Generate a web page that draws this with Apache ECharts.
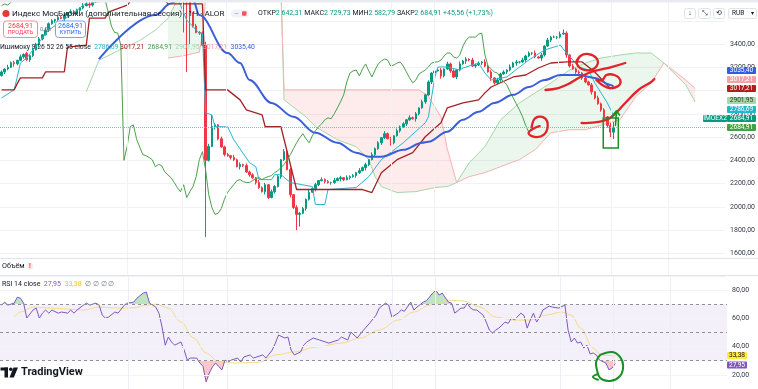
<!DOCTYPE html>
<html><head><meta charset="utf-8">
<script src="https://cdn.jsdelivr.net/npm/echarts@6/dist/echarts.min.js"></script>
<style>html,body{margin:0;padding:0;background:#fff}#c{width:758px;height:389px}</style>
</head><body><div id="c"></div>
<script>
// ---------------- DATA ----------------
const N_SLOTS = 231; // 196 hourly bars + 26 bars of forward cloud + right margin
const categories = Array.from({length: N_SLOTS}, (_, i) => String(i));

const opens = [3130,3160,3185,3200,3240,3230,3260,3290,3320,3265,
3300,3350,3400,3445,3480,3520,3575,3600,3610,3630,
3620,3650,3670,3680,3660,3690,3710,3730,3745,3735,
3760,3775,3790,3800,3830,3850,3880,3920,3960,4000,
4040,4080,4120,4150,4180,4210,4240,4220,4255,4200,
4130,4060,3990,3950,3970,3930,3910,3900,3850,3830,
3780,3670,3555,3500,3495,3390,2400,2520,2690,2705,
2585,2515,2450,2440,2425,2405,2345,2365,2355,2300,
2275,2250,2210,2165,2130,2190,2080,2130,2175,2260,
2405,2475,2320,2105,1995,1935,1945,1985,2065,2125,
2157,2191,2226,2234,2217,2209,2209,2226,2243,2251,
2234,2251,2260,2269,2294,2311,2337,2363,2406,2449,
2500,2551,2594,2629,2586,2551,2611,2654,2689,2714,
2749,2766,2757,2800,2851,2903,2963,3074,3151,3169,
3177,3126,3186,3229,3169,3117,3177,3229,3254,3271,
3263,3211,3220,3237,3246,3211,3160,3109,3066,3091,
3143,3160,3177,3203,3237,3246,3246,3263,3297,3323,
3323,3289,3280,3306,3383,3434,3460,3460,3460,3486,
3494,3306,3211,3186,3160,3151,3109,3074,3049,2989,
2937,2886,2834,2774,2700,2642.31];
const closes = [3160,3185,3200,3240,3230,3260,3290,3310,3265,3300,
3350,3400,3445,3480,3520,3575,3600,3610,3630,3620,
3650,3670,3680,3660,3690,3710,3730,3745,3735,3760,
3775,3790,3800,3830,3850,3880,3920,3960,4000,4040,
4080,4120,4150,4180,4210,4240,4220,4255,4200,4130,
4060,3990,3950,3970,3930,3910,3900,3850,3830,3780,
3670,3555,3500,3495,3390,2400,2520,2690,2705,2585,
2515,2450,2440,2425,2405,2345,2365,2355,2300,2275,
2250,2210,2165,2130,2190,2080,2130,2175,2260,2405,
2475,2320,2105,1995,1935,1945,1985,2065,2125,2157,
2191,2226,2234,2217,2209,2209,2226,2243,2251,2234,
2251,2260,2269,2294,2311,2337,2363,2406,2449,2500,
2551,2594,2629,2586,2551,2611,2654,2689,2714,2749,
2766,2757,2800,2851,2903,2963,3074,3151,3169,3177,
3126,3186,3229,3169,3117,3177,3229,3254,3271,3263,
3211,3220,3237,3246,3211,3160,3109,3066,3091,3143,
3160,3177,3203,3237,3246,3246,3263,3297,3323,3323,
3289,3280,3306,3383,3434,3460,3460,3460,3486,3494,
3306,3211,3186,3160,3151,3109,3074,3049,2989,2937,
2886,2834,2774,2700,2642.31,2684.91];
const highs = [3174,3192,3222,3250,3256,3265,3309,3321,3334,3307,
3372,3410,3461,3485,3539,3586,3614,3617,3652,3640,
3666,3675,3699,3691,3704,3717,3752,3755,3761,3765,
3794,3801,3814,3837,3872,3890,3936,3965,4019,4051,
4094,4127,4172,4190,4226,4245,4259,4266,4269,4207,
4152,4070,4006,3975,3989,3941,3924,3907,3872,3840,
3796,3675,3574,3511,3509,3420,2542,2790,2721,2710,
2604,2526,2464,2447,2447,2415,2381,2370,2374,2311,
2289,2257,2232,2175,2206,2195,2149,2186,2274,2412,
2497,2485,2336,2110,2014,1956,1999,2072,2147,2167,
2207,2231,2253,2245,2231,2216,2248,2253,2267,2256,
2270,2271,2283,2301,2333,2347,2379,2411,2468,2511,
2565,2601,2651,2639,2602,2616,2673,2700,2728,2756,
2788,2776,2816,2856,2922,2974,3088,3158,3191,3187,
3193,3191,3248,3240,3183,3184,3251,3264,3287,3276,
3282,3231,3251,3253,3268,3221,3176,3114,3110,3154,
3174,3184,3225,3247,3262,3251,3282,3308,3337,3330,
3345,3299,3322,3388,3453,3471,3474,3467,3508,3525,
3510,3311,3230,3197,3174,3158,3131,3084,3065,2994,
2956,2897,2848,2781,2722,2729.73];
const lows = [3121,3142,3174,3194,3206,3217,3253,3274,3256,3247,
3289,3344,3376,3432,3473,3504,3566,3582,3599,3614,
3596,3637,3663,3644,3651,3672,3699,3724,3711,3722,
3753,3759,3781,3782,3819,3844,3856,3907,3953,3984,
4031,4062,4109,4144,4156,4197,4213,4204,4191,4112,
4049,3984,3926,3937,3923,3894,3891,3832,3500,3160,
3400,3542,3493,3479,3381,1740,2389,2514,2666,2572,
2508,2434,2431,2407,2394,2339,2321,2342,2293,2259,
2241,2192,2154,2124,2106,2067,2073,2114,2166,2242,
2394,2314,2081,1982,1800,1830,1936,1967,2054,2119,
2133,2178,2219,2201,2200,2191,2198,2220,2219,2221,
2227,2235,2251,2251,2283,2305,2313,2350,2399,2433,
2491,2533,2583,2580,2527,2538,2604,2638,2680,2696,
2738,2751,2733,2787,2844,2887,2954,3056,3140,3163,
3102,3113,3179,3153,3108,3099,3166,3223,3230,3250,
3204,3195,3211,3219,3200,3154,3085,3053,3059,3075,
3134,3142,3166,3197,3213,3233,3239,3247,3288,3305,
3278,3274,3256,3293,3376,3418,3451,3442,3449,3480,
3282,3198,3179,3144,3142,3091,3063,3043,2965,2924,
2879,2818,2765,2682,2600,2582.79];

// Ichimoku lines, read as [bar index, price]
const tenkan = [[0,2937],[4,3006],[5,3117],[6,3237],[8,3280],[10,3349],[15,3520],[22,3650],[26,3734],[30,3820],[35,3900],[45,4100],[52,4050],[56,3800],[59,3606],[63,3494],[64,3494],[65,2809],[67,2791],[68,2689],[72,2689],[74,2577],[79,2380],[81,2346],[82,2234],[86,2234],[87,2277],[89,2277],[92,2209],[99,2174],[100,2020],[103,2020],[104,2149],[113,2166],[117,2260],[121,2406],[128,2551],[135,2723],[136,2774],[138,3109],[139,3203],[142,3203],[146,3177],[147,3194],[152,3237],[154,3151],[156,3091],[161,3117],[163,3160],[168,3263],[173,3349],[178,3391],[180,3323],[184,3203],[187,3177],[189,3066],[193,2894],[195,2786.69]];
const kijun = [[0,3006],[4,3006],[5,3060],[6,3109],[13,3109],[14,3160],[20,3160],[21,3374],[27,3391],[28,3623],[33,3623],[34,3674],[40,3734],[42,3800],[50,3850],[53,3745],[64,3745],[65,3006],[72,3006],[76,2920],[78,2834],[83,2791],[84,2689],[89,2689],[94,2149],[115,2149],[118,2123],[121,2294],[126,2406],[131,2466],[135,2603],[140,2723],[142,2851],[147,2894],[152,2920],[154,2980],[156,3031],[163,3117],[167,3134],[171,3194],[175,3237],[180,3246],[185,3246],[189,3160],[192,3074],[194,3017],[195,3017.21]];
const maLine = [[31,3271],[49,3649],[54,3750],[58,3830],[61,3780],[63,3649],[72,3323],[76,3237],[79,3091],[86,2894],[93,2774],[100,2637],[107,2551],[113,2466],[117,2431],[121,2431],[128,2491],[134,2551],[136,2560],[142,2646],[147,2749],[152,2817],[157,2894],[163,2963],[168,3031],[173,3091],[178,3134],[184,3134],[189,3109],[194,3049],[195,3035.40]];
const spanA = [[27,2990],[31,3260],[37,3340],[44,3430],[49,3520],[53,3620],[56,3780],[60,3900],[68,3920],[80,3910],[89,3900],[90,2920],[97,2774],[100,2689],[107,2577],[113,2517],[117,2406],[119,2260],[121,2174],[126,2123],[132,2131],[138,2166],[142,2174],[145,2209],[149,2380],[154,2517],[159,2749],[165,2894],[170,2980],[175,3066],[181,3177],[186,3237],[191,3280],[197,3306],[202,3323],[207,3323],[211,3237],[218,3049],[221,2901.95]];
const spanB = [[53,3280],[58,3300],[63,3330],[64,3480],[65,3790],[66,3850],[80,3860],[89,3870],[90,3006],[133,3006],[136,2950],[140,2774],[142,2500],[145,2209],[149,2260],[154,2294],[159,2346],[165,2406],[170,2491],[175,2637],[181,2663],[186,2663],[197,2749],[202,2946],[207,3066],[211,3237],[218,3091],[221,3017.21]];
const cloudSegments = [[53,89,'up'],[90,145,'down'],[145,211,'up'],[211,221,'down']];
const CHIKOU_SHIFT = 26;

// RSI pane
const rsi = [[0,69.4],[1,71.5],[2,69.4],[4,70.8],[5,75],[6,74.3],[7,70.8],[8,60.2],[10,65.9],[11,67.3],[12,60.2],[13,63.7],[14,65.9],[15,63.7],[16,65.9],[18,63.7],[19,64.5],[21,63.7],[22,65.9],[23,63.7],[24,65.9],[26,69.4],[27,70.8],[28,69.4],[30,70.8],[31,69.4],[32,62.3],[33,60.2],[34,60.9],[36,64.5],[37,63.7],[39,69.4],[40,70.8],[42,71.5],[43,74.3],[45,77.9],[46,78.6],[47,70.8],[48,69.4],[49,68],[50,63.7],[51,53.8],[52,41],[53,46.8],[54,43.3],[55,41],[57,43.3],[58,37.6],[59,30.5],[60,31.9],[62,31.9],[63,28.4],[64,26],[65,15],[66,21.3],[67,25.6],[68,28.4],[69,26],[70,23.5],[71,30.5],[72,29.1],[73,30.5],[75,31.9],[76,29.1],[77,32.7],[79,34.1],[80,31.9],[83,34.1],[84,31.9],[86,37.6],[87,42.5],[88,48.2],[90,46.1],[91,46.8],[92,37.6],[93,34.1],[95,36.2],[96,41.1],[97,43.3],[99,46.1],[101,44.7],[104,42.5],[107,44.7],[108,46.8],[110,44.7],[111,50.3],[113,46.1],[115,51.7],[117,56.7],[119,62.3],[120,67.3],[122,70.8],[123,69.4],[124,60.9],[126,63.7],[127,65.9],[128,65],[130,71.5],[131,65.9],[132,68],[134,71.5],[135,72.5],[137,77.9],[138,80],[139,76.5],[140,77.9],[142,71.5],[143,70.8],[144,63.7],[146,67.3],[147,67.3],[148,70.8],[149,67.3],[150,66],[151,65.9],[153,62.3],[154,57.4],[155,51.7],[156,49.6],[157,51.7],[158,53.1],[160,57.4],[161,56.5],[162,60.2],[163,59],[165,63.7],[166,62],[167,53.1],[168,58.8],[169,63.7],[170,57.4],[171,60.9],[172,65.9],[174,68.7],[175,68],[177,67.3],[179,69.4],[180,51.7],[181,43.3],[182,46.1],[183,42.5],[184,43.3],[185,39],[186,41.1],[187,34.8],[188,35.5],[189,34.1],[190,30.5],[192,28.4],[193,23.5],[194,24.9],[195,27.95]];
const rsiMa = [[4,60.9],[6,64.5],[10,68],[14,67.5],[21,66.6],[26,65.9],[31,68],[37,67.3],[42,67.5],[46,69.4],[49,70.1],[53,67.3],[57,57.4],[61,46.1],[65,35.5],[69,29.1],[74,28.4],[78,28.6],[82,29.1],[87,34.1],[93,36.2],[100,39.7],[108,42.5],[114,46.1],[120,51.7],[126,58.8],[131,64.5],[136,69.4],[142,72.9],[147,72.2],[152,68],[157,60.9],[163,58.8],[168,58.8],[173,62.3],[178,64.5],[181,62.3],[184,53.1],[188,39],[190,35],[192,33.8],[195,33.38]];
const rsiLevels = [30, 50, 70];

// axis ticks / labels
const priceTicks = [1600,1800,2000,2200,2400,2600,2800,3000,3200,3400];
const rsiTicks = [20,40,60,80];
const sessionBreaks = [40.2,57.7,71.6,124.1,137.7,177.5,194.3,212.4];
const lastPrice = 2684.91;

// hand-drawn annotations, in [bar index, price] / [bar index, RSI]
const redStrokes = [
  [[183.2,3237],[184.4,3297],[187.0,3314],[189.5,3280],[189.8,3220],[187.6,3177],[184.8,3185],[183.2,3237],[183.8,3280]],
  [[173.3,3005],[177.4,3022],[180.6,3056],[183.8,3108],[187.0,3151],[190.2,3177],[194.3,3202],[198.7,3237]],
  [[189.5,3091],[191.4,3091],[192.7,3134],[195.2,3134],[197.1,3091],[196.5,3039],[193.7,3022],[191.4,3048],[189.5,3091]],
  [[184.8,2721],[190.2,2730],[194.3,2773],[198.7,2893],[202.9,3005],[207.0,3074],[208.0,3099]],
  [[168.9,2687],[170.1,2764],[173.0,2764],[174.0,2695],[172.7,2618],[169.8,2601],[167.9,2635],[169.8,2678],[171.4,2695]]
];
const greenBox = [[191.7,2764],[196.5,2506]];
const greenArrow = [[[195.6,2700],[195.9,2820]],[[194.6,2781],[195.9,2826],[196.9,2790]]];
const rsiBlob = [[[190.2,34.1],[194,36.2],[196.5,32.7],[197.5,26.3],[196.5,19.2],[193.3,15.7],[190.2,17.8],[189.2,23.4],[188.9,29.1],[190.2,34.1]],[[189.3,20.5],[187.9,18.5],[189.5,16.5]]];

// ---------------- CHART ----------------
const FONT = 'Roboto, "Noto Sans", sans-serif';
const fmt = v => v.toFixed(2).replace('.', ',');
const candleData = opens.map((o, i) => [o, closes[i], lows[i], highs[i]]);
const chikou = closes.map((c, i) => [i - CHIKOU_SHIFT, c]).filter(p => p[0] >= 0);

const chart = echarts.init(document.getElementById('c'));

const G = [];
function T(x, y, text, size, color, o) {
  o = o || {};
  G.push({type:'text', x:x, y:y, z:100, silent:true, style:{text:text, font:(o.weight||'normal')+' '+size+'px '+FONT, fill:color, align:o.align||'left', verticalAlign:'middle', rich:o.rich}});
}
function R(x, y, w, h, fill, stroke, r) {
  G.push({type:'rect', z:99, silent:true, shape:{x:x, y:y, width:w, height:h, r:r||0}, style:{fill:fill, stroke:stroke||null, lineWidth:1}});
}
function L(x1, y1, x2, y2, c) {
  G.push({type:'line', z:98, silent:true, shape:{x1:x1, y1:y1, x2:x2, y2:y2}, style:{stroke:c, lineWidth:1}});
}

// chrome / separators
R(0, 0, 758, 2.5, '#e9ebf0');
L(0, 258.5, 758, 258.5, '#e0e3eb');
L(0, 275.5, 758, 275.5, '#e0e3eb');

// header
G.push({type:'circle', z:100, silent:true, shape:{cx:6, cy:13.5, r:3.6}, style:{fill:'#e53935'}});
R(4.2, 12.8, 3.6, 1.4, '#fff');
T(12, 13.5, 'Индекс МосБиржи (дополнительная сессия) · 1Ч · ALOR', 8.1, '#131722');
R(231, 9.5, 18, 8, '#f0f3fa', null, 4);
T(234, 13.5, '—', 6, '#787b86');
R(242, 11.2, 4.5, 4.5, '#f7525f', null, 1);
T(258, 13.5, '{l|ОТКР}{v|2 642,31} {l|МАКС}{v|2 729,73} {l|МИН}{v|2 582,79} {l|ЗАКР}{v|2 684,91} {v|+45,56 (+1,73%)}', 7, '#131722',
  {rich:{l:{fill:'#131722'}, v:{fill:'#089981'}}});

// buy / sell boxes
R(3.5, 21, 34, 16.5, '#fff', '#f28b93', 3);
T(20.5, 26, '2684,91', 7, '#f23645', {align:'center'});
T(20.5, 33, 'ПРОДАТЬ', 5.5, '#f23645', {align:'center'});
T(40, 29.5, '0,00', 5.8, '#787b86');
R(55.5, 21, 30, 16.5, '#fff', '#7e9cf5', 3);
T(70.5, 26, '2684,91', 7, '#2962ff', {align:'center'});
T(70.5, 33, 'КУПИТЬ', 5.5, '#2962ff', {align:'center'});

// ichimoku legend
T(0, 47, '{d|Ишимоку 9 26 52 26 55 close}  {c|2786,69} {r|3017,21}  {g|2684,91}  {la|2901,95}  {p|3017,21}  {b|3035,40}', 6.8, '#131722',
  {rich:{d:{fill:'#131722'}, c:{fill:'#22b3cc'}, r:{fill:'#a31f1f'}, g:{fill:'#43a047'}, la:{fill:'#a5d6a7'}, p:{fill:'#ef9a9a'}, b:{fill:'#2f5fe0'}}});

// top-right buttons
R(684.5, 8.5, 11, 10, '#fff', '#e0e3eb', 2); T(690, 13.7, '↓', 7, '#131722', {align:'center'});
R(698.5, 8.5, 12, 10, '#fff', '#e0e3eb', 2); T(704.5, 13.7, '⤡', 7, '#131722', {align:'center'});
R(713.5, 8.5, 11, 10, '#fff', '#e0e3eb', 2); T(719, 13.7, '⟲', 7, '#131722', {align:'center'});
R(728.5, 8.5, 28, 10, '#fff', '#e0e3eb', 2); T(732, 13.7, 'RUB', 6.5, '#131722'); T(752, 13.5, '▾', 6, '#131722', {align:'center'});

// price tags (main pane)
function TAG(x, yc, w, text, bg, fg) { R(x, yc - 3.6, w, 7.2, bg, null, 1); T(x + w / 2, yc, text, 6.6, fg, {align:'center'}); }
TAG(727, 70.5, 29, '3035,40', '#2f5fe0', '#fff');
TAG(727, 79.5, 29, '3017,21', '#f3a3a3', '#fff');
TAG(727, 88.5, 29, '3017,21', '#b71c1c', '#fff');
TAG(727, 100.5, 29, '2901,95', '#a8d8aa', '#1e3a1e');
TAG(727, 109.5, 29, '2786,69', '#1fb6cf', '#fff');
TAG(727, 118.5, 29, '2684,91', '#089981', '#fff');
TAG(703, 118.5, 24, 'IMOEX2', '#089981', '#fff');
TAG(727, 127.5, 29, '2684,91', '#43a047', '#fff');

// volume + RSI legends
T(2, 266.5, 'Объём', 7.2, '#131722');
G.push({type:'circle', z:100, silent:true, shape:{cx:30, cy:266.5, r:3.2}, style:{fill:'#fde8ea'}});
T(30, 266.7, '!', 6.5, '#f23645', {align:'center', weight:'bold'});
T(2, 284.5, '{d|RSI 14 close}  {p|27,95}  {y|33,38}  {n|∅ ∅ ∅ ∅}', 7, '#131722',
  {rich:{d:{fill:'#131722'}, p:{fill:'#7e57c2'}, y:{fill:'#e8c12c'}, n:{fill:'#787b86'}}});
TAG(727, 355.5, 20, '33,38', '#ffeb3b', '#131722');
TAG(727, 365, 20, '27,95', '#7e57c2', '#fff');

// TradingView logo
R(0.5, 367.5, 7.5, 3, '#131722');
R(4.5, 367.5, 3.5, 10, '#131722');
G.push({type:'circle', z:100, silent:true, shape:{cx:10.8, cy:369.2, r:1.8}, style:{fill:'#131722'}});
G.push({type:'polygon', z:100, silent:true, shape:{points:[[13.5,367.5],[18,367.5],[13.8,377.5],[9.5,377.5]]}, style:{fill:'#131722'}});
T(21, 372.5, 'TradingView', 11, '#131722', {weight:'bold'});

const upFill = 'rgba(76,175,80,0.11)';
const dnFill = 'rgba(242,54,69,0.10)';
const gridLine = '#f0f2f6';

const option = {
  animation: false,
  backgroundColor: '#ffffff',
  textStyle: {fontFamily: FONT},
  grid: [
    {left: 0, right: 31, top: 0, height: 276.6},
    {left: 0, right: 31, top: 276, height: 113}
  ],
  xAxis: [
    {type:'category', gridIndex:0, data:categories, boundaryGap:true, show:false},
    {type:'value', gridIndex:0, min:-0.5, max:N_SLOTS - 0.5, show:false},
    {type:'value', gridIndex:1, min:-0.5, max:N_SLOTS - 0.5, show:false}
  ],
  yAxis: [
    {type:'value', gridIndex:0, position:'right', min:1400, max:3779, interval:200,
      axisLine:{show:false}, axisTick:{show:false},
      splitLine:{lineStyle:{color:gridLine, width:1}},
      axisLabel:{margin:5, fontSize:7, color:'#333a45', fontFamily:FONT,
        formatter: v => priceTicks.indexOf(v) >= 0 ? fmt(v) : ''}},
    {type:'value', gridIndex:1, position:'right', min:10, max:90, interval:10,
      axisLine:{show:false}, axisTick:{show:false}, splitLine:{show:false},
      axisLabel:{margin:5, fontSize:7, color:'#333a45', fontFamily:FONT,
        formatter: v => rsiTicks.indexOf(v) >= 0 ? fmt(v) : ''}}
  ],
  visualMap: [{
    type:'piecewise', show:false, seriesIndex:9, dimension:1,
    pieces:[{gt:70, color:'rgba(76,175,80,0.35)'}, {gte:30, lte:70, color:'rgba(255,255,255,0)'}, {lt:30, color:'rgba(242,54,69,0.28)'}]
  }],
  series: [
    { // 0 cloud
      type:'custom', xAxisIndex:1, yAxisIndex:0, clip:true, silent:true, z:1,
      data:[[0, 2000]],
      renderItem: (params, api) => ({
        type:'group',
        children: cloudSegments.map(([s, e, dir]) => {
          const top = spanA.filter(p => p[0] >= s && p[0] <= e).map(p => api.coord(p));
          const bot = spanB.filter(p => p[0] >= s && p[0] <= e).map(p => api.coord(p)).reverse();
          return {type:'polygon', shape:{points: top.concat(bot)}, style:{fill: dir === 'up' ? upFill : dnFill}};
        })
      })
    },
    { // 1 span A
      type:'line', xAxisIndex:1, yAxisIndex:0, data:spanA, symbol:'none', silent:true, z:2,
      lineStyle:{color:'#a5d6a7', width:1},
      markLine:{silent:true, symbol:['none','none'], label:{show:false},
        lineStyle:{color:gridLine, width:1, type:'solid'},
        data: sessionBreaks.map(v => ({xAxis: v}))}
    },
    { // 2 span B
      type:'line', xAxisIndex:1, yAxisIndex:0, data:spanB, symbol:'none', silent:true, z:2,
      lineStyle:{color:'#f4b3b3', width:1}
    },
    { // 3 candles
      type:'candlestick', xAxisIndex:0, yAxisIndex:0, data:candleData, barWidth:2, z:3,
      itemStyle:{color:'#089981', color0:'#f23645', borderColor:'#089981', borderColor0:'#f23645', borderWidth:1},
      markLine:{silent:true, symbol:['none','none'], label:{show:false},
        lineStyle:{color:'#6fc3bd', width:1, type:'dotted'},
        data:[{yAxis:lastPrice}]}
    },
    { // 4 tenkan
      type:'line', xAxisIndex:1, yAxisIndex:0, data:tenkan, symbol:'none', silent:true, z:4,
      lineStyle:{color:'#2ab6cf', width:1}
    },
    { // 5 kijun
      type:'line', xAxisIndex:1, yAxisIndex:0, data:kijun, symbol:'none', silent:true, z:4,
      lineStyle:{color:'#a32424', width:1.3}
    },
    { // 6 chikou (close shifted back)
      type:'line', xAxisIndex:1, yAxisIndex:0, data:chikou, symbol:'none', silent:true, z:4,
      lineStyle:{color:'#4c9f4c', width:1}
    },
    { // 7 MA
      type:'line', xAxisIndex:1, yAxisIndex:0, data:maLine, symbol:'none', silent:true, z:5,
      smooth:0.35, smoothMonotone:'x',
      lineStyle:{color:'#3a5fd8', width:2}
    },
    { // 8 hand drawings on price pane
      type:'custom', xAxisIndex:1, yAxisIndex:0, silent:true, z:20, data:[[0, 2000]],
      renderItem: (params, api) => {
        const pts = s => s.map(p => api.coord(p));
        const ch = redStrokes.map(s => ({type:'polyline', shape:{points:pts(s), smooth:0.4},
          style:{stroke:'#e3232b', lineWidth:2.3, fill:null, lineCap:'round', lineJoin:'round'}}));
        const a = api.coord(greenBox[0]), b = api.coord(greenBox[1]);
        ch.push({type:'rect', shape:{x:a[0], y:a[1], width:b[0]-a[0], height:b[1]-a[1]},
          style:{stroke:'#1b8f25', lineWidth:1.5, fill:null}});
        greenArrow.forEach(s => ch.push({type:'polyline', shape:{points:pts(s)},
          style:{stroke:'#1b8f25', lineWidth:1.6, fill:null, lineCap:'round', lineJoin:'round'}}));
        return {type:'group', children:ch};
      }
    },
    { // 9 RSI overbought / oversold fill
      type:'line', xAxisIndex:2, yAxisIndex:1, data:rsi, symbol:'none', silent:true, z:2,
      lineStyle:{width:0, opacity:0},
      areaStyle:{origin:70, opacity:1}
    },
    { // 10 RSI
      type:'line', xAxisIndex:2, yAxisIndex:1, data:rsi, symbol:'none', silent:true, z:4,
      lineStyle:{color:'#7e57c2', width:1},
      markArea:{silent:true, itemStyle:{color:'rgba(126,87,194,0.09)'}, data:[[{yAxis:30},{yAxis:70}]]},
      markLine:{silent:true, symbol:['none','none'], label:{show:false},
        data: rsiLevels.map(v => ({yAxis:v, lineStyle:{color:'#8d8f99', type:[3,3], width:1}}))
          .concat(rsiTicks.map(v => ({yAxis:v, lineStyle:{color:'#f3f4f7', type:'solid', width:1}})))
          .concat(sessionBreaks.map(v => ({xAxis:v, lineStyle:{color:'#eceef3', type:'solid', width:1}})))}
    },
    { // 11 RSI MA
      type:'line', xAxisIndex:2, yAxisIndex:1, data:rsiMa, symbol:'none', silent:true, z:3,
      smooth:0.35, smoothMonotone:'x',
      lineStyle:{color:'#f3dc86', width:1}
    },
    { // 12 hand drawing on RSI pane
      type:'custom', xAxisIndex:2, yAxisIndex:1, silent:true, z:20, data:[[0, 50]],
      renderItem: (params, api) => ({
        type:'group',
        children: rsiBlob.map(s => ({type:'polyline', shape:{points:s.map(p => api.coord(p)), smooth:0.4},
          style:{stroke:'#1b8f25', lineWidth:2, fill:null, lineCap:'round', lineJoin:'round'}}))
      })
    }
  ],
  graphic: {elements: G}
};
chart.setOption(option);
</script>
</body></html>
